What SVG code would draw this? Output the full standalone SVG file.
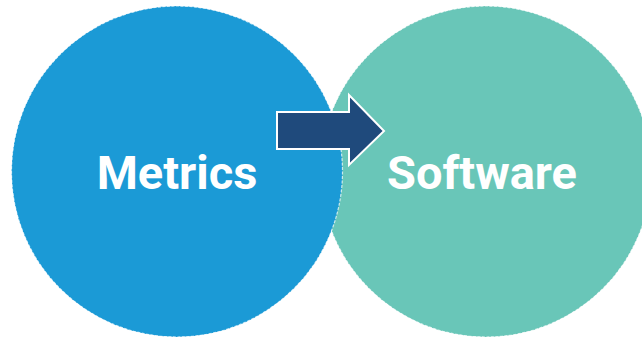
<svg xmlns="http://www.w3.org/2000/svg" width="642" height="338" viewBox="0 0 642 338">
<style>
.circ{stroke:#ffffff;stroke-width:1.2;stroke-dasharray:3 1.5;stroke-opacity:0.7}
.lbl{font-family:Roboto,"Liberation Sans",sans-serif;font-weight:bold;font-size:47px;fill:#ffffff;text-anchor:middle}
</style>
<rect width="642" height="338" fill="#ffffff"/>
<g id="node-software">
<circle class="circ" cx="486" cy="171.5" r="165.5" fill="#69c6b8"/>
<text class="lbl" x="482" y="188.5">Software</text>
</g>
<g id="node-metrics">
<circle class="circ" cx="177" cy="171.5" r="165.5" fill="#1b9ad6"/>
<text class="lbl" x="177" y="188.5">Metrics</text>
</g>
<g id="connectors">
<polygon points="277,112 349,112 349,95 384,131 349,165 349,149 277,149" fill="#1f4a7c" stroke="#ffffff" stroke-width="2" stroke-linejoin="miter"/>
</g>
</svg>
